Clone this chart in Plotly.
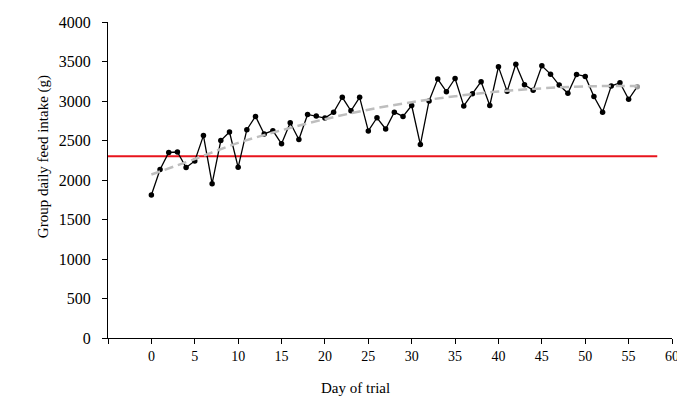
import plotly.graph_objects as go

days = list(range(0, 57))
intake = [1810, 2132, 2349, 2354, 2157, 2241, 2562, 1953, 2500, 2608,
          2161, 2637, 2805, 2583, 2625, 2458, 2725, 2512, 2830, 2809,
          2784, 2857, 3047, 2876, 3047, 2621, 2788, 2646, 2859, 2805,
          2943, 2449, 3001, 3277, 3118, 3285, 2938, 3093, 3244, 2943,
          3432, 3122, 3465, 3206, 3135, 3445, 3340, 3202, 3097, 3336,
          3311, 3056, 2859, 3189, 3231, 3022, 3181]

trend_days = [0, 5, 10, 15, 20, 25, 30, 35, 40, 45, 50, 56]
trend_vals = [2069, 2266, 2470, 2630, 2770, 2890, 2985, 3060, 3120, 3160, 3185, 3189]

ref_days = [-5, 58.3]
ref_vals = [2300, 2300]

x_ticks = [-5, 0, 5, 10, 15, 20, 25, 30, 35, 40, 45, 50, 55, 60]
x_tick_text = ["", "0", "5", "10", "15", "20", "25", "30", "35", "40", "45", "50", "55", "60"]
y_ticks = [0, 500, 1000, 1500, 2000, 2500, 3000, 3500, 4000]
y_tick_text = ["0", "500", "1000", "1500", "2000", "2500", "3000", "3500", "4000"]

FONT = "Liberation Serif, Times New Roman, serif"

marker_colors = ["#000000"] * (len(days) - 1) + ["#9a9a9a"]

fig = go.Figure()
fig.add_trace(go.Scatter(
    x=ref_days, y=ref_vals, mode="lines",
    line=dict(color="#E8141C", width=2), hoverinfo="skip"))
fig.add_trace(go.Scatter(
    x=days, y=intake, mode="lines+markers",
    line=dict(color="#000000", width=1.3),
    marker=dict(color=marker_colors, size=5.5)))
fig.add_trace(go.Scatter(
    x=trend_days, y=trend_vals, mode="lines",
    line=dict(color="#BEBEBE", width=2.5, dash="9px,5px", shape="spline"),
    hoverinfo="skip"))

# page body has an 8px margin, so the figure is placed at (8, 8)
fig.update_layout(
    width=677, height=388,
    margin=dict(l=100, r=6, t=11, b=58),
    paper_bgcolor="white", plot_bgcolor="white",
    showlegend=False,
    font=dict(family=FONT, color="#000000"),
    xaxis=dict(
        range=[-5, 60], tickvals=x_ticks, ticktext=x_tick_text,
        showgrid=False, zeroline=False,
        showline=True, linecolor="#000000", linewidth=1,
        ticks="outside", ticklen=5, tickcolor="#000000",
        ticklabeloverflow="allow",
        tickfont=dict(family=FONT, size=14, color="#000000")),
    yaxis=dict(
        range=[0, 4000], tickvals=y_ticks,
        ticktext=[t + "\u00a0\u00a0" for t in y_tick_text],
        showgrid=False, zeroline=False,
        showline=True, linecolor="#000000", linewidth=1,
        ticks="outside", ticklen=5, tickcolor="#000000",
        tickfont=dict(family=FONT, size=16, color="#000000")),
    annotations=[
        dict(text="Day of trial", xref="paper", yref="paper",
             x=0.438, y=-0.157, xanchor="center", yanchor="middle",
             showarrow=False, font=dict(family=FONT, size=15, color="#000000")),
        dict(text="Group daily feed intake (g)", xref="paper", yref="paper",
             x=-0.113, y=0.573, xanchor="center", yanchor="middle", textangle=-90,
             showarrow=False, font=dict(family=FONT, size=15, color="#000000")),
    ],
)

fig.write_html("out.html")
